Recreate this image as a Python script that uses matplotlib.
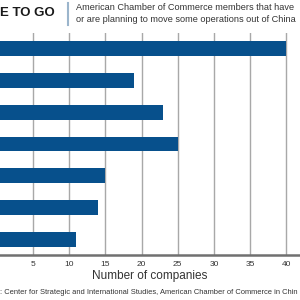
import matplotlib
matplotlib.use("Agg")
import matplotlib.pyplot as plt
import numpy as np

# companies per bar, top to bottom
values = [40, 19, 23, 25, 15, 14, 11]
xticks = [5, 10, 15, 20, 25, 30, 35, 40]
title = "E TO GO"
subtitle = ["American Chamber of Commerce members that have",
            "or are planning to move some operations out of China"]
xlabel = "Number of companies"
source = ": Center for Strategic and International Studies, American Chamber of Commerce in Chin"

narrow = ["Liberation Sans Narrow", "Liberation Sans", "DejaVu Sans"]
blue = "#07508c"

fig = plt.figure(figsize=(3, 3), dpi=100)
ax = fig.add_axes([0, 45 / 300, 1, 222 / 300])

y = np.arange(len(values))
ax.barh(y, values, height=0.47, color=blue, zorder=3)
ax.set_ylim(len(values) - 0.52, -0.48)
ax.set_xlim(0.43, 41.9)

ax.set_xticks(xticks)
ax.set_xticklabels([str(t) for t in xticks], family=narrow, fontsize=6, color="#333333")
ax.tick_params(axis="x", length=0, pad=4)
ax.set_yticks([])
ax.grid(axis="x", color="#a8a8a8", linewidth=1, zorder=0)
for s in ["top", "left", "right"]:
    ax.spines[s].set_visible(False)
ax.spines["bottom"].set_color("#707070")
ax.spines["bottom"].set_linewidth(1.8)
ax.spines["bottom"].set_zorder(4)

ax.set_xlabel(xlabel, family=["Liberation Sans", "DejaVu Sans"], fontsize=8.5, color="#333333", labelpad=2)

fig.text(0, 1 - 13 / 300, title, fontsize=9.5, fontweight="bold", color="#1a1a1a",
         family=["Liberation Sans", "DejaVu Sans"], va="center", ha="left")
fig.add_artist(plt.Line2D([68 / 300, 68 / 300], [1 - 3 / 300, 1 - 25 / 300],
                          color="#9bb5cc", linewidth=1.5))
fig.text(76 / 300, 1 - 7.5 / 300, subtitle[0], fontsize=6.6, color="#333333",
         family=["Liberation Sans", "DejaVu Sans"], va="center", ha="left")
fig.text(76 / 300, 1 - 20 / 300, subtitle[1], fontsize=6.6, color="#333333",
         family=["Liberation Sans", "DejaVu Sans"], va="center", ha="left")

fig.text(0, 1 - 292 / 300, source, fontsize=5.4, color="#333333",
         family=narrow, va="center", ha="left")

fig.savefig("out.png", dpi=100)
